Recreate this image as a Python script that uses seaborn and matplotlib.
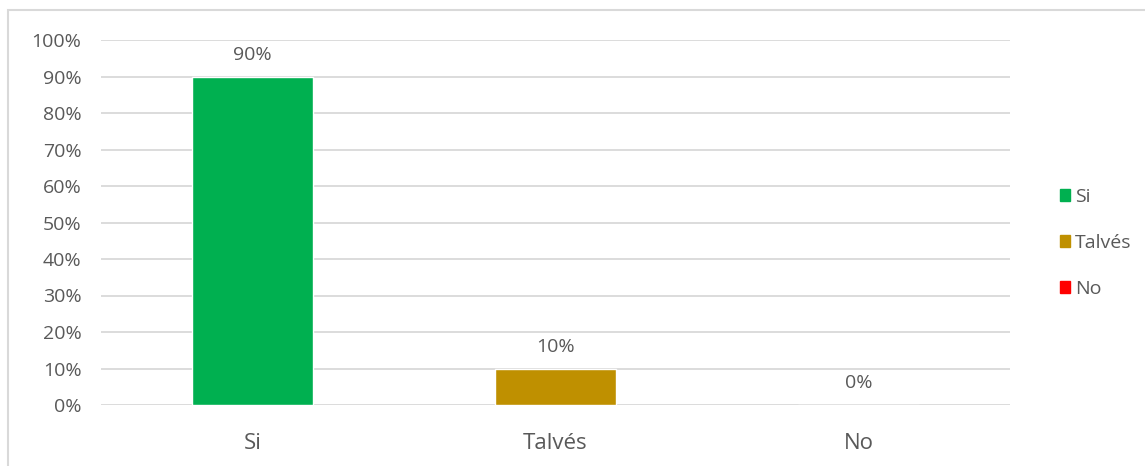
import matplotlib
matplotlib.use("Agg")
import matplotlib.pyplot as plt
import matplotlib.patches as mpatches
from matplotlib.ticker import PercentFormatter
import seaborn as sns
import pandas as pd

categories = ["Si", "Talvés", "No"]
values = [0.90, 0.10, 0.00]
labels = ["90%", "10%", "0%"]
colors = ["#00B050", "#BF9000", "#FF0000"]

TEXT = "#595959"
GRID = "#D9D9D9"


def respuesta_chart():
    df = pd.DataFrame({"respuesta": categories, "valor": values})

    sns.set_style("white")
    plt.rcParams["font.family"] = ["Open Sans", "DejaVu Sans"]

    fig = plt.figure(figsize=(11.45, 4.66), dpi=100)
    ax = fig.add_axes([101 / 1145, 1 - 405 / 466, 909 / 1145, 365 / 466])

    sns.barplot(
        data=df,
        x="respuesta",
        y="valor",
        hue="respuesta",
        palette=colors,
        saturation=1,
        width=0.4,
        legend=False,
        ax=ax,
    )

    ax.set_ylim(0, 1)
    ax.set_xlim(-0.5, len(categories) - 0.5)
    ax.set_yticks([i / 10 for i in range(11)])
    ax.yaxis.set_major_formatter(PercentFormatter(1.0, decimals=0))
    ax.grid(axis="y", color=GRID, linewidth=1.3)
    ax.set_axisbelow(True)
    for s in ax.spines.values():
        s.set_visible(False)
    ax.tick_params(axis="y", labelsize=14, colors=TEXT, length=0, pad=14)
    ax.tick_params(axis="x", labelsize=16, colors=TEXT, length=0, pad=20)
    ax.set_xlabel("")
    ax.set_ylabel("")

    for i, (v, t) in enumerate(zip(values, labels)):
        ax.annotate(t, (i, v), xytext=(0, 9), textcoords="offset points",
                    ha="center", va="bottom", fontsize=14, color=TEXT)

    handles = [mpatches.Patch(color=c, label=l) for c, l in zip(colors, categories)]
    fig.legend(handles=handles, loc="center left",
               bbox_to_anchor=(1042 / 1145, 1 - 243 / 466),
               frameon=False, handlelength=0.55, handleheight=0.55,
               handletextpad=0.25, labelspacing=1.45, fontsize=14,
               labelcolor=TEXT)

    border = mpatches.Rectangle((8 / 1145, -0.1), 1.2, 1.1 - 10 / 466,
                                transform=fig.transFigure, fill=False,
                                edgecolor=GRID, linewidth=1.5)
    fig.patches.append(border)

    fig.savefig("out.png", dpi=100)


if __name__ == "__main__":
    respuesta_chart()
